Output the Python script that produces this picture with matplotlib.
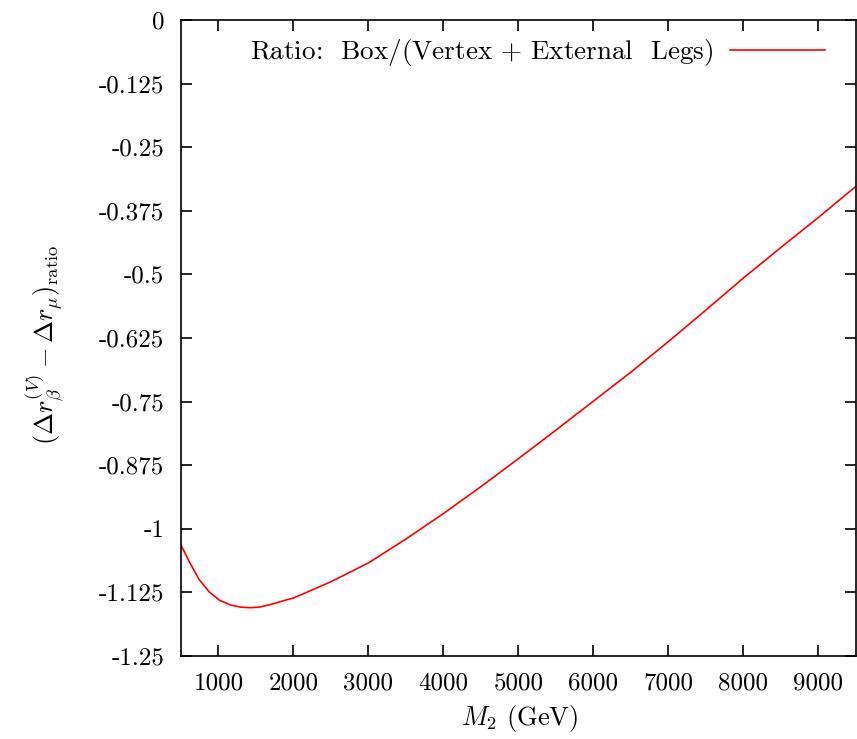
import matplotlib
matplotlib.use("Agg")
import matplotlib.pyplot as plt

plt.rcParams['font.family'] = 'serif'
plt.rcParams['font.serif'] = ['cmr10']
plt.rcParams['mathtext.fontset'] = 'cm'
plt.rcParams['axes.unicode_minus'] = False

# M2 (GeV) and ratio
m2 = [500, 612, 743, 876, 1009, 1164, 1298, 1420, 1543, 1716, 1898, 2000,
      2500, 3000, 3500, 4000, 4500, 5000, 5500, 6000, 6500, 7000, 7500,
      8000, 8500, 9000, 9500]
ratio = [-1.032, -1.065, -1.100, -1.124, -1.140, -1.150, -1.154, -1.155,
         -1.154, -1.148, -1.140, -1.136, -1.104, -1.067, -1.020, -0.970,
         -0.917, -0.862, -0.806, -0.749, -0.692, -0.632, -0.570, -0.507,
         -0.447, -0.388, -0.327]

xticks = [1000, 2000, 3000, 4000, 5000, 6000, 7000, 8000, 9000]
yticks = [0, -0.125, -0.25, -0.375, -0.5, -0.625, -0.75, -0.875, -1,
          -1.125, -1.25]
ylabels = ['0', '-0.125', '-0.25', '-0.375', '-0.5', '-0.625', '-0.75',
           '-0.875', '-1', '-1.125', '-1.25']

fig = plt.figure(figsize=(8.57, 7.39), dpi=100)
ax = fig.add_axes([0.2112, 0.1123, 0.7876, 0.8607])

ax.plot(m2, ratio, color='red', lw=1.2,
        label=r'Ratio:  Box/(Vertex $+$ External  Legs)')

ax.set_xlim(500, 9500)
ax.set_ylim(-1.25, 0)
ax.set_xticks(xticks)
ax.set_xticklabels([str(t) for t in xticks])
ax.set_yticks(yticks)
ax.set_yticklabels(ylabels)
ax.tick_params(direction='in', length=8, width=1.2, top=True, right=True,
               labelsize=18, pad=12)
for s in ax.spines.values():
    s.set_linewidth(1.2)

ax.set_xlabel(r'$M_2$ (GeV)', fontsize=19, va='center', ha='center')
ax.set_ylabel(r'$(\Delta r_\beta^{(V)} - \Delta r_\mu)_{\rm ratio}$',
              fontsize=19, va='center', ha='center')
ax.xaxis.set_label_coords(0.502, -0.0975)
ax.yaxis.set_label_coords(-0.2015, 0.489)

ax.legend(loc='upper right', frameon=False, markerfirst=False, fontsize=19.5,
          handlelength=3.5, handletextpad=0.6, borderaxespad=0.0,
          bbox_to_anchor=(0.97, 0.99))

fig.savefig('out.png', dpi=100)
